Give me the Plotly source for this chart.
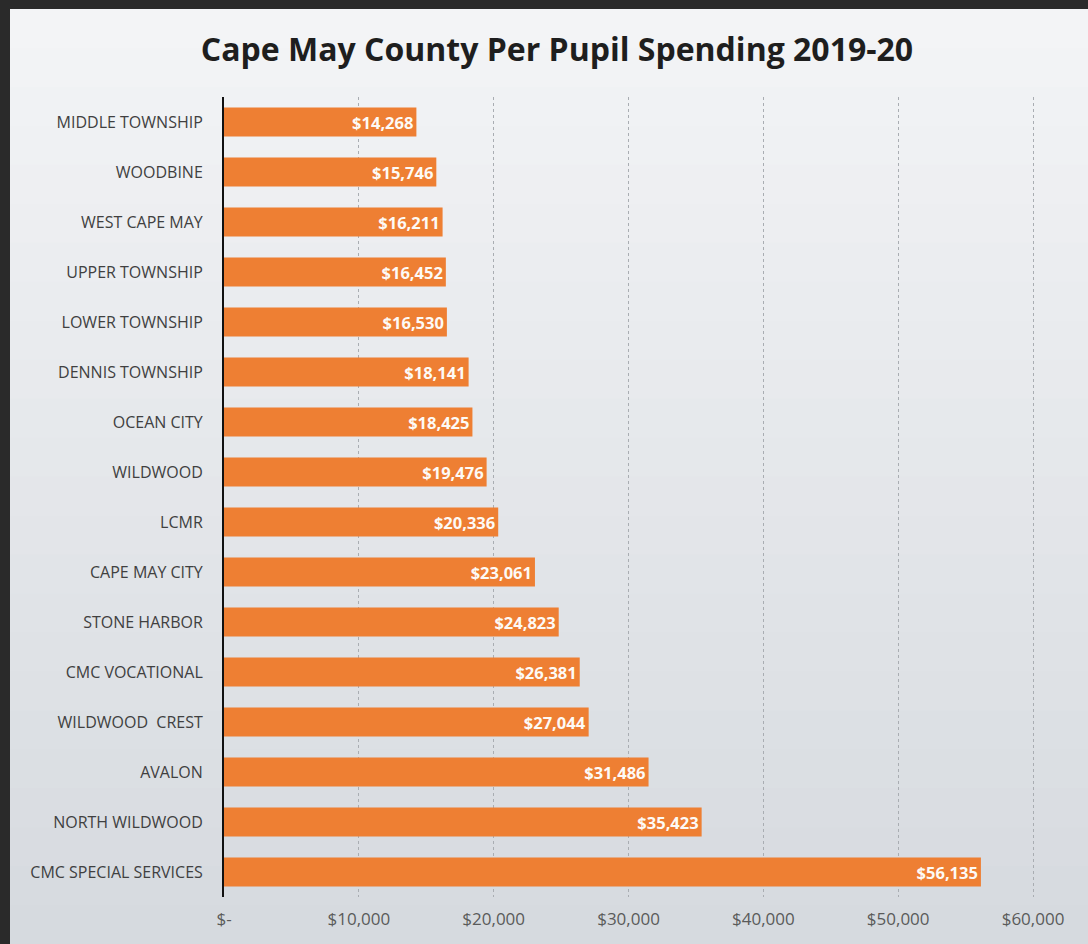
import plotly.graph_objects as go

districts = ["MIDDLE TOWNSHIP", "WOODBINE", "WEST CAPE MAY", "UPPER TOWNSHIP",
             "LOWER TOWNSHIP", "DENNIS TOWNSHIP", "OCEAN CITY", "WILDWOOD", "LCMR",
             "CAPE MAY CITY", "STONE HARBOR", "CMC VOCATIONAL", "WILDWOOD  CREST",
             "AVALON", "NORTH WILDWOOD", "CMC SPECIAL SERVICES"]
spending = [14268, 15746, 16211, 16452, 16530, 18141, 18425, 19476, 20336,
            23061, 24823, 26381, 27044, 31486, 35423, 56135]
tick_vals = [0, 10000, 20000, 30000, 40000, 50000, 60000]
tick_text = ["$-", "$10,000", "$20,000", "$30,000", "$40,000", "$50,000", "$60,000"]

labels = ["${:,}".format(v) for v in spending]

W, H = 1088, 944
ML, MR, MT, MB = 224, 28, 97, 47
PW, PH = W - ML - MR, H - MT - MB


def px_x(p):
    return (p - ML) / PW


def px_y(p):
    return (H - MB - p) / PH


fig = go.Figure()
fig.add_trace(go.Bar(
    x=spending, y=districts, orientation="h",
    marker=dict(color="#ee7f33", line=dict(width=0)),
    width=0.58,
    text=labels, textposition="inside", insidetextanchor="end",
    textfont=dict(family="Open Sans", size=16.5, color="#fdfaf6", weight="bold"),
    hoverinfo="skip",
))

# photographed-screen look: light panel with a soft vertical gradient
top_c = (243, 244, 246)
bot_c = (214, 218, 223)
n = 24
y_start, y_end = 9, H
for i in range(n):
    t = i / (n - 1)
    c = tuple(round(top_c[k] + (bot_c[k] - top_c[k]) * t) for k in range(3))
    y0p = y_start + (y_end - y_start) * i / n
    y1p = y_start + (y_end - y_start) * (i + 1) / n
    fig.add_shape(type="rect", xref="paper", yref="paper",
                  x0=px_x(10), x1=px_x(W + 2), y0=px_y(y1p + 1), y1=px_y(y0p),
                  fillcolor="rgb(%d,%d,%d)" % c, line=dict(width=0), layer="below")

fig.update_layout(
    width=W, height=H,
    margin=dict(l=ML, r=MR, t=MT, b=MB),
    paper_bgcolor="#2a2a2a",
    plot_bgcolor="rgba(0,0,0,0)",
    title=dict(text="Cape May County Per Pupil Spending 2019-20",
               x=557 / W, xanchor="center", y=1 - 50 / H, yanchor="middle",
               font=dict(family="Open Sans", size=32, color="#1e1e1e", weight="bold")),
    showlegend=False,
)
fig.update_xaxes(range=[0, 62000], tickvals=tick_vals, ticktext=tick_text,
                 showgrid=True, gridcolor="#a9adb2", griddash="dot", gridwidth=1,
                 zeroline=False, showline=False,
                 tickfont=dict(family="Open Sans", size=17, color="#5a5a5a"),
                 ticks="", ticklabelstandoff=10, fixedrange=True)
fig.update_yaxes(categoryorder="array", categoryarray=districts, autorange="reversed",
                 showline=True, linecolor="#111111", linewidth=2,
                 showgrid=False, zeroline=False, ticks="",
                 ticklabelstandoff=16,
                 tickfont=dict(family="Open Sans", size=16, color="#404040"))

fig.write_html("out.html", config={"displayModeBar": False})

# remove default page margin so the figure sits at the window origin
with open("out.html", "r", encoding="utf-8") as f:
    html = f.read()
html = html.replace("<body>", '<body style="margin:0;background:#2a2a2a">', 1)
with open("out.html", "w", encoding="utf-8") as f:
    f.write(html)
